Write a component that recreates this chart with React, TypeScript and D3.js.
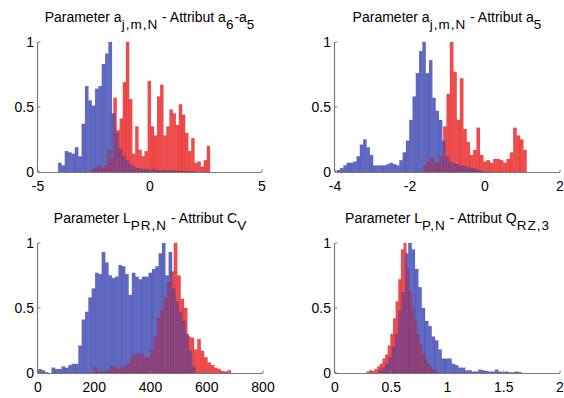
import React, { useEffect, useRef } from "react";
import * as d3 from "d3";

// values, normalised histograms (max = 1)
// panel 1: a_{j,m,N}, attribut a6-a5
const p1XTicks = [-5, 0, 5];
const p1BlueRange = [-4.1, 2.05];
const p1Blue = [0.07, 0.05, 0.16, 0.15, 0.14, 0.19, 0.12, 0.37, 0.66, 0.55, 0.51, 0.64, 0.66, 0.83, 0.91, 1.0,
  0.45, 0.3, 0.18, 0.12, 0.09, 0.06, 0.04, 0.03, 0.025, 0.02, 0.02, 0.015, 0.02, 0.015, 0.01, 0.015, 0.01,
  0.01, 0.01, 0.008, 0.008, 0.005, 0.005, 0.005, 0.005];
const p1RedRange = [-2.6, 2.68];
const p1Red = [0.02, 0.03, 0.04, 0.03, 0.05, 0.17, 0.1, 0.57, 0.32, 0.41, 0.69, 1.0, 0.56, 0.14, 0.35, 0.17,
  0.12, 0.16, 0.7, 0.35, 0.28, 0.58, 0.67, 0.28, 0.35, 0.48, 0.45, 0.36, 0.52, 0.44, 0.3, 0.16, 0.26, 0.07,
  0.08, 0.04, 0.09, 0.2];

// panel 2: a_{j,m,N}, attribut a5
const p2XTicks = [-4, -2, 0, 2];
const p2BlueRange = [-3.95, 0.0];
const p2Blue = [0.015, 0.03, 0.05, 0.07, 0.07, 0.08, 0.12, 0.21, 0.25, 0.19, 0.13, 0.05, 0.05, 0.05, 0.05,
  0.06, 0.07, 0.06, 0.05, 0.09, 0.15, 0.24, 0.4, 0.58, 0.76, 0.93, 1.0, 0.76, 0.86, 0.57, 0.47, 0.4, 0.24,
  0.12, 0.08, 0.07, 0.06, 0.05, 0.05, 0.04, 0.03, 0.03, 0.02, 0.01, 0.005];
const p2RedRange = [-1.645, 1.11];
const p2Red = [0.05, 0.08, 0.11, 0.07, 0.07, 0.12, 0.35, 0.6, 1.0, 0.77, 0.4, 0.72, 0.33, 0.23, 0.13, 0.17,
  0.34, 0.13, 0.08, 0.09, 0.07, 0.1, 0.1, 0.09, 0.07, 0.1, 0.15, 0.34, 0.28, 0.25, 0.17];

// panel 3: L_{PR,N}, attribut C_V
const p3XTicks = [0, 200, 400, 600, 800];
const p3BlueRange = [1, 560];
const p3Blue = [0.03, 0.02, 0.005, 0.0, 0.04, 0.03, 0.03, 0.05, 0.04, 0.06, 0.07, 0.07, 0.21, 0.41, 0.47,
  0.58, 0.65, 0.77, 0.76, 0.93, 0.85, 0.75, 0.73, 0.74, 0.83, 0.82, 0.76, 0.6, 0.77, 0.74, 0.72, 0.74, 0.74,
  0.77, 0.8, 0.82, 0.92, 1.0, 0.75, 0.93, 0.65, 0.55, 0.47, 0.4, 0.3, 0.17, 0.05];
const p3RedRange = [197, 686];
const p3Red = [0.04, 0.01, 0.005, 0.01, 0.02, 0.05, 0.04, 0.03, 0.04, 0.05, 0.07, 0.12, 0.14, 0.15, 0.14,
  0.12, 0.12, 0.18, 0.28, 0.42, 0.48, 0.58, 0.7, 0.78, 1.0, 0.75, 0.57, 0.5, 0.28, 0.27, 0.18, 0.26, 0.17,
  0.12, 0.08, 0.06, 0.04, 0.03, 0.015, 0.01, 0.02];

// panel 4: L_{P,N}, attribut Q_{RZ,3}
const p4XTicks = [0, 0.5, 1, 1.5, 2];
const p4BlueRange = [0.385, 1.66];
const p4Blue = [0.02, 0.04, 0.07, 0.12, 0.2, 0.3, 0.48, 0.62, 0.92, 1.0, 0.95, 0.8, 0.66, 0.5, 0.4, 0.36,
  0.28, 0.25, 0.18, 0.11, 0.11, 0.11, 0.07, 0.06, 0.04, 0.04, 0.02, 0.02, 0.01, 0.01, 0.025, 0.02, 0.015,
  0.01, 0.01, 0.025, 0.01, 0.005, 0.01, 0.005, 0.005, 0.01, 0.005];
const p4RedRange = [0.282, 0.916];
const p4Red = [0.01, 0.02, 0.015, 0.03, 0.05, 0.07, 0.11, 0.14, 0.21, 0.3, 0.42, 0.55, 0.72, 0.95, 1.0, 0.8,
  0.63, 0.5, 0.4, 0.3, 0.22, 0.15, 0.1, 0.07, 0.04, 0.02, 0.01];

const yTicks = [0, 0.5, 1];

const panels = [
  {
    title: [["Parameter a"], ["j,m,N", 1], [" - Attribut a"], ["6", 1], ["-a"], ["5", 1]],
    ticks: p1XTicks,
    blue: { range: p1BlueRange, values: p1Blue },
    red: { range: p1RedRange, values: p1Red },
  },
  {
    title: [["Parameter a"], ["j,m,N", 1], [" - Attribut a"], ["5", 1]],
    ticks: p2XTicks,
    blue: { range: p2BlueRange, values: p2Blue },
    red: { range: p2RedRange, values: p2Red },
  },
  {
    title: [["Parameter L"], ["PR,N", 1], [" - Attribut C"], ["V", 1]],
    ticks: p3XTicks,
    blue: { range: p3BlueRange, values: p3Blue },
    red: { range: p3RedRange, values: p3Red },
  },
  {
    title: [["Parameter L"], ["P,N", 1], [" - Attribut Q"], ["RZ,3", 1]],
    ticks: p4XTicks,
    blue: { range: p4BlueRange, values: p4Blue },
    red: { range: p4RedRange, values: p4Red },
  },
];

// axes boxes in pixels (left, right, bottom, top)
const boxes = [
  { l: 38, r: 262, b: 172, t: 42 },
  { l: 335, r: 560, b: 172, t: 42 },
  { l: 38, r: 263, b: 373, t: 243 },
  { l: 335, r: 560, b: 373, t: 243 },
];

const FONT = "'Liberation Sans', Arial, Helvetica, sans-serif";

const App = () => {
  const ref = useRef<SVGSVGElement>(null);

  useEffect(() => {
    const svg = d3.select(ref.current);
    svg.selectAll("*").remove();

    panels.forEach((p, k) => {
      const box = boxes[k];
      const ticks = p.ticks;
      const x = d3.scaleLinear().domain([ticks[0], ticks[ticks.length - 1]]).range([box.l, box.r]);
      const y = d3.scaleLinear().domain([0, 1]).range([box.b, box.t]);
      const g = svg.append("g");

      const drawBars = (s, fill, stroke) => {
        const w = (s.range[1] - s.range[0]) / s.values.length;
        g.append("g")
          .selectAll("rect")
          .data(s.values)
          .enter()
          .append("rect")
          .attr("x", (d, i) => x(s.range[0] + i * w))
          .attr("width", (d, i) => x(s.range[0] + (i + 1) * w) - x(s.range[0] + i * w))
          .attr("y", d => y(d))
          .attr("height", d => y(0) - y(d))
          .attr("fill", fill)
          .attr("stroke", stroke)
          .attr("stroke-width", 0.4);
      };

      // red underneath, translucent blue over it, then a light red wash so overlaps go purple
      drawBars(p.red, "rgb(242,75,75)", "none");
      drawBars(p.blue, "rgba(55,68,180,0.8)", "rgba(40,45,130,0.35)");
      drawBars(p.red, "rgba(242,75,75,0.3)", "rgba(160,20,20,0.3)");

      // axes (box off, left + bottom only)
      const axisColor = "#7a7a7a";
      g.append("line")
        .attr("x1", box.l).attr("x2", box.r)
        .attr("y1", box.b + 0.5).attr("y2", box.b + 0.5)
        .attr("stroke", axisColor).attr("stroke-width", 1.2);
      g.append("line")
        .attr("x1", box.l - 0.5).attr("x2", box.l - 0.5)
        .attr("y1", box.t).attr("y2", box.b + 0.5)
        .attr("stroke", axisColor).attr("stroke-width", 1.2);

      g.selectAll("line.xt")
        .data(ticks)
        .enter()
        .append("line")
        .attr("x1", d => x(d)).attr("x2", d => x(d))
        .attr("y1", box.b).attr("y2", box.b - 2.5)
        .attr("stroke", axisColor);
      g.selectAll("line.yt")
        .data(yTicks)
        .enter()
        .append("line")
        .attr("x1", box.l).attr("x2", box.l + 2.5)
        .attr("y1", d => y(d)).attr("y2", d => y(d))
        .attr("stroke", axisColor);

      g.selectAll("text.xl")
        .data(ticks)
        .enter()
        .append("text")
        .attr("x", d => x(d))
        .attr("y", box.b + 19)
        .attr("text-anchor", "middle")
        .style("font-family", FONT)
        .style("font-size", "14px")
        .attr("fill", "#000")
        .text(d => String(d));

      g.selectAll("text.yl")
        .data(yTicks)
        .enter()
        .append("text")
        .attr("x", box.l - 4)
        .attr("y", d => y(d) + 5)
        .attr("text-anchor", "end")
        .style("font-family", FONT)
        .style("font-size", "14px")
        .attr("fill", "#000")
        .text(d => String(d));

      // title with subscripts
      const title = g.append("text")
        .attr("x", (box.l + box.r) / 2)
        .attr("y", box.t - 20)
        .attr("text-anchor", "middle")
        .style("font-family", FONT)
        .style("font-size", "14px")
        .attr("fill", "#000");
      let down = false;
      p.title.forEach(([t, sub]) => {
        const ts = title.append("tspan").text(t);
        if (sub) {
          ts.style("font-size", "13.5px").style("letter-spacing", "1px");
          if (!down) { ts.attr("dy", 6.5); down = true; }
        } else if (down) {
          ts.attr("dy", -6.5);
          down = false;
        }
      });
    });
  }, []);

  return (
    <svg
      ref={ref}
      width={564}
      height={398}
      style={{ position: "absolute", left: 0, top: 0, background: "#fff" }}
    />
  );
};

export default App;
